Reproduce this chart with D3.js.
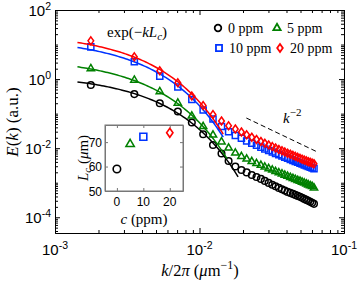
<!DOCTYPE html>
<html>
<head>
<meta charset="utf-8">
<script src="https://cdn.jsdelivr.net/npm/d3@7"></script>
<style>
body { margin: 0; background: #fff; }
svg { display: block; }
</style>
</head>
<body>
<script>
var width = 360;
var height = 283;

// k/2pi (um^-1), same grid for all four concentrations
var kValues = [0.00177, 0.00354, 0.00531, 0.00708, 0.00885, 0.0106, 0.0124, 0.0142, 0.0159, 0.0177,
               0.0195, 0.0212, 0.0230, 0.0248, 0.0266, 0.0283, 0.0301, 0.0319, 0.0336, 0.0354,
               0.0372, 0.0389, 0.0407, 0.0425, 0.0443, 0.0460, 0.0478, 0.0496, 0.0513, 0.0531,
               0.0549, 0.0566, 0.0584, 0.0602, 0.0620];

var e0ppm = [0.671, 0.368, 0.199, 0.115, 0.0553, 0.0252, 0.0124, 0.00703, 0.00427, 0.00296,
             0.00234, 0.00199, 0.00168, 0.00147, 0.00129, 0.00113, 0.000987, 0.000876, 0.000787, 0.000708,
             0.000645, 0.000591, 0.000542, 0.000507, 0.000475, 0.000444, 0.000415, 0.000389, 0.000364, 0.000340,
             0.000318, 0.000298, 0.000279, 0.000261, 0.000244];
var e5ppm = [2.01, 0.936, 0.435, 0.2025, 0.0852, 0.0424, 0.0241, 0.0153, 0.0101, 0.00727,
             0.00576, 0.00487, 0.00413, 0.00361, 0.00320, 0.00286, 0.00257, 0.00233, 0.00212, 0.00195,
             0.00180, 0.00166, 0.00154, 0.00143, 0.00134, 0.00125, 0.00117, 0.00111, 0.00104, 0.000980,
             0.000923, 0.000870, 0.000824, 0.000781, 0.000708];
var e10ppm = [8.58, 3.16, 1.22, 0.587, 0.256, 0.127, 0.0698, 0.0424, 0.0300, 0.0233,
              0.0193, 0.0162, 0.0139, 0.0121, 0.0107, 0.00948, 0.00852, 0.00772, 0.00703, 0.00645,
              0.00595, 0.00549, 0.00510, 0.00475, 0.00444, 0.00415, 0.00391, 0.00369, 0.00347, 0.00327,
              0.00310, 0.00294, 0.00281, 0.00268, 0.00256];
var e20ppm = [12.8, 4.41, 1.74, 0.782, 0.323, 0.171, 0.0942, 0.0611, 0.0444, 0.0359,
              0.0294, 0.0244, 0.0207, 0.0178, 0.0156, 0.0139, 0.0124, 0.0111, 0.0101, 0.00917,
              0.00841, 0.00777, 0.00717, 0.00666, 0.00619, 0.00579, 0.00542, 0.00510, 0.00481, 0.00453,
              0.00429, 0.00407, 0.00389, 0.00371, 0.00354];

var seriesNames = ["0 ppm", "5 ppm", "10 ppm", "20 ppm"];
var seriesColors = ["#000000", "#008000", "#0033ff", "#ff0000"];
var seriesMarkers = ["circle", "triangle", "square", "diamond"];

// inset: L_c vs concentration (also used for the exp(-k L_c) fits)
var concValues = [0, 5, 10, 20];
var lcValues = [59.0, 69.2, 72.2, 73.8];
var fitAmp = [1.41, 4.22, 15.7, 22.3];
var fitKMin = [0.00143, 0.00143, 0.00143, 0.00143];
var fitKMax = [0.0185, 0.0155, 0.0146, 0.0146];

// k^-2 guide
var refK = [0.0211, 0.0652];
var refAmp = 3.32e-5;

var xTickLabels = [1e-3, 1e-2, 1e-1];
var yTickLabels = [1e-4, 1e-2, 1e0, 1e2];
var insetXTicks = [0, 10, 20];
var insetYTicks = [50, 60, 70];

var seriesData = [e0ppm, e5ppm, e10ppm, e20ppm];

var svg = d3.select("body").append("svg")
            .attr("width", width)
            .attr("height", height);

var x = d3.scaleLog().domain([1e-3, 1e-1]).range([55, 344]);
var y = d3.scaleLog().domain([3.5e-5, 1e2]).range([233, 10]);

var isDecade = function(v) {
    var l = Math.log10(v);
    return Math.abs(l - Math.round(l)) < 1e-6;
};
var xMinor = x.ticks().filter(function(v) { return !isDecade(v); });
var xMajor = x.ticks().filter(isDecade);
var yMinor = y.ticks().filter(function(v) { return yTickLabels.indexOf(v) < 0; });

// ticks on all four sides, pointing in
var drawTicks = function(axisFn, scale, vals, len, tx, ty) {
    svg.append("g")
       .attr("transform", "translate(" + tx + "," + ty + ")")
       .call(axisFn(scale).tickValues(vals).tickSize(-len).tickSizeOuter(0).tickFormat(""))
       .call(function(g) { g.select(".domain").attr("stroke", "#000"); });
};
drawTicks(d3.axisBottom, x, xMinor, 3, 0, 233);
drawTicks(d3.axisBottom, x, xMajor, 5, 0, 233);
drawTicks(d3.axisTop, x, xMinor, 3, 0, 10);
drawTicks(d3.axisTop, x, xMajor, 5, 0, 10);
drawTicks(d3.axisLeft, y, yMinor, 3, 55, 0);
drawTicks(d3.axisLeft, y, yTickLabels, 5, 55, 0);
drawTicks(d3.axisRight, y, yMinor, 3, 344, 0);
drawTicks(d3.axisRight, y, yTickLabels, 5, 344, 0);

// power-of-ten labels
var powLabel = function(t, v) {
    var e = Math.round(Math.log10(v));
    t.append("tspan").text("10");
    t.append("tspan").attr("dy", -6).attr("font-size", 10.5).text(e < 0 ? "-" + (-e) : e);
};
svg.selectAll(".xlab")
   .data(xTickLabels)
   .enter()
   .append("text")
   .attr("x", function(d) { return x(d); })
   .attr("y", 255)
   .attr("text-anchor", "middle")
   .attr("font-family", "Liberation Sans, Arial, sans-serif")
   .attr("font-size", 15)
   .each(function(d) { powLabel(d3.select(this), d); });
svg.selectAll(".ylab")
   .data(yTickLabels)
   .enter()
   .append("text")
   .attr("x", 51)
   .attr("y", function(d) { return y(d) + 6; })
   .attr("text-anchor", "end")
   .attr("font-family", "Liberation Sans, Arial, sans-serif")
   .attr("font-size", 15)
   .each(function(d) { powLabel(d3.select(this), d); });

// axis titles
var serif = "Liberation Serif, Times New Roman, serif";
var xt = svg.append("text")
            .attr("x", 200).attr("y", 276)
            .attr("text-anchor", "middle")
            .attr("font-family", serif).attr("font-size", 16.5);
xt.append("tspan").attr("font-style", "italic").text("k");
xt.append("tspan").text("/2");
xt.append("tspan").attr("font-style", "italic").text("\u03c0");
xt.append("tspan").text(" (");
xt.append("tspan").attr("font-style", "italic").text("\u03bc");
xt.append("tspan").text("m");
xt.append("tspan").attr("dy", -7).attr("font-size", 12).text("\u22121");
xt.append("tspan").attr("dy", 7).text(")");

var yt = svg.append("text")
            .attr("transform", "translate(18,122) rotate(-90)")
            .attr("text-anchor", "middle")
            .attr("font-family", serif).attr("font-size", 17);
yt.append("tspan").attr("font-style", "italic").text("E");
yt.append("tspan").text("(");
yt.append("tspan").attr("font-style", "italic").text("k");
yt.append("tspan").text(") (a.u.)");

// markers
var markerPath = function(type, s) {
    if (type === "circle") return d3.symbol(d3.symbolCircle, Math.PI * s * s * 0.25)();
    if (type === "square") return d3.symbol(d3.symbolSquare, s * s * 0.85)();
    if (type === "triangle") {
        var w = s * 1.1, h = s * 0.95;
        return "M0," + (-h * 2 / 3) + "L" + (w / 2) + "," + (h / 3) + "L" + (-w / 2) + "," + (h / 3) + "Z";
    }
    var dw = s * 0.85, dh = s * 1.2;
    return "M0," + (-dh / 2) + "L" + (dw / 2) + ",0L0," + (dh / 2) + "L" + (-dw / 2) + ",0Z";
};

// k^-2 guide line
svg.append("path")
   .attr("d", d3.line()
        .x(function(d) { return x(d); })
        .y(function(d) { return y(refAmp * Math.pow(d, -2)); })(refK))
   .attr("fill", "none")
   .attr("stroke", "#000")
   .attr("stroke-width", 1)
   .attr("stroke-dasharray", "5,3");
var kt = svg.append("text").attr("x", 283).attr("y", 123)
            .attr("font-family", serif).attr("font-size", 15);
kt.append("tspan").attr("font-style", "italic").text("k");
kt.append("tspan").attr("dy", -7).attr("font-size", 11).text("\u22122");

// fits + data
var line = d3.line()
             .x(function(d) { return x(d[0]); })
             .y(function(d) { return y(d[1]); });
seriesData.forEach(function(vals, i) {
    var g = svg.append("g");
    var lo = fitKMin[i], hi = fitKMax[i];
    var fit = d3.range(80).map(function(j) {
        var k = lo * Math.pow(hi / lo, j / 79);
        return [k, fitAmp[i] * Math.exp(-2 * Math.PI * k * lcValues[i])];
    });
    g.append("path")
     .attr("d", line(fit))
     .attr("fill", "none")
     .attr("stroke", seriesColors[i])
     .attr("stroke-width", 1.5);
    g.selectAll("path.pt")
     .data(vals)
     .enter()
     .append("path")
     .attr("class", "pt")
     .attr("d", markerPath(seriesMarkers[i], 6.6))
     .attr("transform", function(d, j) { return "translate(" + x(kValues[j]) + "," + y(d) + ")"; })
     .attr("fill", "none")
     .attr("stroke", seriesColors[i])
     .attr("stroke-width", 1.5);
});

svg.append("text").attr("x", 107).attr("y", 37)
   .attr("font-family", serif).attr("font-size", 15)
   .call(function(t) {
       t.append("tspan").text("exp(\u2212");
       t.append("tspan").attr("font-style", "italic").text("kL");
       t.append("tspan").attr("font-style", "italic").attr("font-size", 11).attr("dy", 3).text("c");
       t.append("tspan").attr("dy", -3).text(")");
   });

// legend
var legX = [218, 277, 219, 280];
var legY = [28, 28, 48, 48];
seriesNames.forEach(function(name, i) {
    svg.append("path")
       .attr("d", markerPath(seriesMarkers[i], 6.6))
       .attr("transform", "translate(" + legX[i] + "," + legY[i] + ")")
       .attr("fill", "none")
       .attr("stroke", seriesColors[i])
       .attr("stroke-width", 1.8);
    svg.append("text")
       .attr("x", legX[i] + 10).attr("y", legY[i] + 5)
       .attr("font-family", serif).attr("font-size", 14)
       .text(name);
});

// inset
var ix = d3.scaleLinear().domain([-4.5, 25]).range([105, 183]);
var iy = d3.scaleLinear().domain([50, 77]).range([191, 125]);
svg.append("rect")
   .attr("x", 105).attr("y", 125).attr("width", 78).attr("height", 66)
   .attr("fill", "#fff").attr("stroke", "#777").attr("stroke-width", 1);
var insetTicks = function(axisFn, scale, vals, tx, ty) {
    svg.append("g")
       .attr("transform", "translate(" + tx + "," + ty + ")")
       .call(axisFn(scale).tickValues(vals).tickSize(-3).tickSizeOuter(0).tickFormat(""))
       .call(function(g) { g.select(".domain").attr("stroke", "#777"); g.selectAll("line").attr("stroke", "#777"); });
};
insetTicks(d3.axisBottom, ix, insetXTicks, 0, 191);
insetTicks(d3.axisTop, ix, insetXTicks, 0, 125);
insetTicks(d3.axisLeft, iy, insetYTicks, 105, 0);
insetTicks(d3.axisRight, iy, insetYTicks, 183, 0);
svg.selectAll(".ixl")
   .data(insetXTicks)
   .enter()
   .append("text")
   .attr("x", function(d) { return ix(d); })
   .attr("y", 206)
   .attr("text-anchor", "middle")
   .attr("font-family", "Liberation Sans, Arial, sans-serif")
   .attr("font-size", 12)
   .text(function(d) { return d; });
svg.selectAll(".iyl")
   .data(insetYTicks)
   .enter()
   .append("text")
   .attr("x", 102)
   .attr("y", function(d) { return iy(d) + 4.5; })
   .attr("text-anchor", "end")
   .attr("font-family", "Liberation Sans, Arial, sans-serif")
   .attr("font-size", 12)
   .text(function(d) { return d; });
concValues.forEach(function(c, i) {
    svg.append("path")
       .attr("d", markerPath(seriesMarkers[i], 7.5))
       .attr("transform", "translate(" + ix(c) + "," + iy(lcValues[i]) + ")")
       .attr("fill", "none")
       .attr("stroke", seriesColors[i])
       .attr("stroke-width", 1.6);
});
var ixt = svg.append("text").attr("x", 144).attr("y", 224)
             .attr("text-anchor", "middle")
             .attr("font-family", serif).attr("font-size", 15);
ixt.append("tspan").attr("font-style", "italic").text("c");
ixt.append("tspan").text(" (ppm)");
var iyt = svg.append("text").attr("transform", "translate(88,158) rotate(-90)")
             .attr("text-anchor", "middle")
             .attr("font-family", serif).attr("font-size", 15);
iyt.append("tspan").attr("font-style", "italic").text("L");
iyt.append("tspan").attr("font-style", "italic").attr("font-size", 11).attr("dy", 3).text("c");
iyt.append("tspan").attr("dy", -3).text(" (");
iyt.append("tspan").attr("font-style", "italic").text("\u03bc");
iyt.append("tspan").text("m)");
</script>
</body>
</html>
